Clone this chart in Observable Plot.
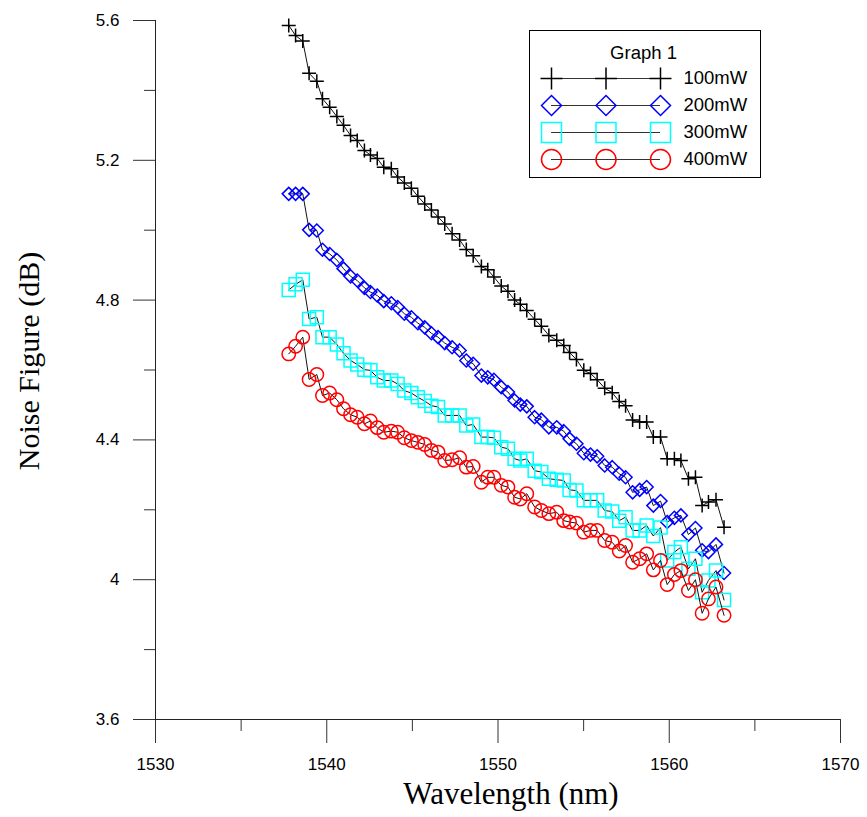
<!DOCTYPE html>
<html><head><meta charset="utf-8">
<script src="https://cdn.jsdelivr.net/npm/d3@7"></script>
<script src="https://cdn.jsdelivr.net/npm/@observablehq/plot@0.6"></script>
<style>
body{margin:0;background:#fff;}
#wrap{position:relative;width:867px;height:817px;}
#legend{position:absolute;left:528px;top:29px;}
</style></head><body>
<div id="wrap"><div id="chart"></div><div id="legend"></div></div>
<script>
const wavelength = [1537.78, 1538.18, 1538.60, 1538.97, 1539.42, 1539.75, 1540.17, 1540.59,
  1540.98, 1541.39, 1541.78, 1542.20, 1542.55, 1542.95, 1543.33, 1543.77,
  1544.14, 1544.53, 1544.94, 1545.32, 1545.72, 1546.11, 1546.50, 1546.89,
  1547.32, 1547.76, 1548.15, 1548.55, 1549.03, 1549.40, 1549.76, 1550.19,
  1550.58, 1550.97, 1551.30, 1551.68, 1552.14, 1552.53, 1552.97, 1553.43,
  1553.84, 1554.18, 1554.58, 1555.01, 1555.40, 1555.79, 1556.23, 1556.67,
  1557.08, 1557.45, 1557.86, 1558.27, 1558.68, 1559.07, 1559.49, 1559.88,
  1560.30, 1560.68, 1561.12, 1561.53, 1561.92, 1562.29, 1562.73, 1563.20];
const nf100 = [5.586, 5.557, 5.541, 5.449, 5.426, 5.376, 5.352, 5.325,
  5.300, 5.271, 5.257, 5.228, 5.215, 5.205, 5.180, 5.176,
  5.152, 5.135, 5.120, 5.097, 5.075, 5.058, 5.038, 5.018,
  4.990, 4.972, 4.945, 4.927, 4.896, 4.887, 4.866, 4.840,
  4.825, 4.800, 4.788, 4.770, 4.745, 4.725, 4.699, 4.685,
  4.670, 4.650, 4.630, 4.599, 4.590, 4.572, 4.548, 4.535,
  4.510, 4.498, 4.457, 4.451, 4.451, 4.408, 4.408, 4.346,
  4.346, 4.341, 4.289, 4.293, 4.212, 4.222, 4.229, 4.150];
const nf200 = [5.104, 5.104, 5.104, 5.001, 4.999, 4.944, 4.932, 4.915,
  4.890, 4.868, 4.856, 4.835, 4.823, 4.813, 4.797, 4.791,
  4.780, 4.761, 4.751, 4.734, 4.722, 4.705, 4.694, 4.677,
  4.665, 4.656, 4.627, 4.618, 4.584, 4.579, 4.572, 4.551,
  4.537, 4.513, 4.501, 4.496, 4.465, 4.458, 4.436, 4.436,
  4.425, 4.403, 4.389, 4.362, 4.358, 4.353, 4.327, 4.322,
  4.303, 4.293, 4.250, 4.257, 4.265, 4.212, 4.225, 4.165,
  4.177, 4.184, 4.129, 4.148, 4.084, 4.079, 4.101, 4.019];
const nf300 = [4.829, 4.845, 4.858, 4.746, 4.751, 4.694, 4.694, 4.673,
  4.648, 4.627, 4.616, 4.601, 4.599, 4.579, 4.570, 4.570,
  4.560, 4.541, 4.534, 4.522, 4.511, 4.498, 4.494, 4.470,
  4.470, 4.470, 4.441, 4.444, 4.408, 4.408, 4.406, 4.379,
  4.375, 4.346, 4.341, 4.346, 4.312, 4.308, 4.289, 4.286,
  4.284, 4.257, 4.255, 4.227, 4.227, 4.227, 4.198, 4.195,
  4.169, 4.179, 4.141, 4.141, 4.155, 4.125, 4.149, 4.055,
  4.079, 4.093, 4.031, 4.060, 3.964, 3.998, 4.026, 3.942];
const nf400 = [4.646, 4.668, 4.694, 4.573, 4.587, 4.527, 4.534, 4.515,
  4.489, 4.472, 4.465, 4.446, 4.454, 4.435, 4.422, 4.425,
  4.422, 4.406, 4.398, 4.393, 4.387, 4.370, 4.365, 4.341,
  4.343, 4.349, 4.322, 4.324, 4.279, 4.293, 4.293, 4.270,
  4.265, 4.236, 4.231, 4.246, 4.208, 4.198, 4.189, 4.193,
  4.169, 4.165, 4.162, 4.136, 4.141, 4.141, 4.112, 4.107,
  4.082, 4.098, 4.050, 4.060, 4.074, 4.028, 4.055, 3.986,
  4.015, 4.026, 3.969, 4.000, 3.904, 3.945, 3.979, 3.898];
const seriesNames = ["100mW", "200mW", "300mW", "400mW"];
const seriesColors = ["#000000", "#0000ff", "#00ffff", "#ff0000"];
const xMajor = [1530, 1540, 1550, 1560, 1570];
const xMinor = [1535, 1545, 1555, 1565];
const yMajor = [3.6, 4.0, 4.4, 4.8, 5.2, 5.6];
const yMinor = [3.8, 4.2, 4.6, 5.0, 5.4];
const legendTitle = "Graph 1";

// open symbols whose half-size equals the dot radius
const plusSym = {draw(c, s){const r=Math.sqrt(s/Math.PI); c.moveTo(-r,0); c.lineTo(r,0); c.moveTo(0,-r); c.lineTo(0,r);}};
const diamondSym = {draw(c, s){const r=Math.sqrt(s/Math.PI); c.moveTo(0,-r); c.lineTo(r,0); c.lineTo(0,r); c.lineTo(-r,0); c.closePath();}};
const squareSym = {draw(c, s){const r=Math.sqrt(s/Math.PI); c.moveTo(-r,-r); c.lineTo(r,-r); c.lineTo(r,r); c.lineTo(-r,r); c.closePath();}};
const circleSym = {draw(c, s){const r=Math.sqrt(s/Math.PI); c.moveTo(r,0); c.arc(0,0,r,0,2*Math.PI); c.closePath();}};
const symbols = [plusSym, diamondSym, squareSym, circleSym];
const plotR = [7, 6.5, 6.5, 6.7];
const legendR = [11, 10, 10, 10];

const allNF = [nf100, nf200, nf300, nf400];
const series = allNF.map((arr, k) => wavelength.map((w, i) => ({w, nf: arr[i], name: seriesNames[k]})));

const sans = "'Liberation Sans', Arial, Helvetica, sans-serif";
const serif = "'Liberation Serif', 'Times New Roman', serif";

const dataMarks = [];
series.forEach((rows, k) => {
  dataMarks.push(Plot.line(rows, {x: "w", y: "nf", stroke: "#111", strokeWidth: 1}));
  dataMarks.push(Plot.dot(rows, {x: "w", y: "nf", symbol: symbols[k], r: plotR[k], stroke: seriesColors[k], fill: "none", strokeWidth: 1.5}));
});

const chart = Plot.plot({
  width: 867, height: 817,
  marginLeft: 155, marginRight: 27, marginTop: 20, marginBottom: 98,
  style: {fontFamily: sans, fontSize: "17px", background: "white", color: "black", overflow: "visible"},
  x: {domain: [1530, 1570]},
  y: {domain: [3.6, 5.6]},
  marks: [
    Plot.axisX({ticks: xMajor, tickSize: 24, tickPadding: 14, tickFormat: d => String(d), label: null, stroke: "#333"}),
    Plot.axisX({ticks: xMinor, tickSize: 12, tickFormat: () => "", label: null, stroke: "#333"}),
    Plot.axisY({ticks: yMajor, tickSize: 22, tickPadding: 14, tickFormat: d => String(+d.toFixed(1)), label: null, stroke: "#333"}),
    Plot.axisY({ticks: yMinor, tickSize: 11, tickFormat: () => "", label: null, stroke: "#333"}),
    Plot.ruleX([1530], {stroke: "#222"}),
    Plot.ruleY([3.6], {stroke: "#222"}),
    ...dataMarks,
    Plot.text(["Wavelength (nm)"], {text: d => d, frameAnchor: "bottom", textAnchor: "middle", lineAnchor: "middle", dx: 13, dy: 75, fontFamily: serif, fontSize: 31, fill: "black"}),
    Plot.text(["Noise Figure (dB)"], {text: d => d, frameAnchor: "left", textAnchor: "middle", lineAnchor: "middle", rotate: -90, dx: -126, dy: -9, fontFamily: serif, fontSize: 30, fill: "black"})
  ]
});
document.getElementById("chart").append(chart);

const legendMarks = [
  Plot.frame({stroke: "black", strokeWidth: 1}),
  Plot.text([legendTitle], {text: d => d, frameAnchor: "top", textAnchor: "middle", lineAnchor: "middle", dx: -1.5, dy: 23, fill: "black"}),
  Plot.ruleY(seriesNames, {y: d => d, x1: 0, x2: 2, stroke: "#333", strokeWidth: 1})
];
seriesNames.forEach((name, k) => {
  legendMarks.push(Plot.dot([0, 1, 2], {x: d => d, y: () => name, symbol: symbols[k], r: legendR[k], stroke: seriesColors[k], fill: "none", strokeWidth: 1.5}));
});
legendMarks.push(Plot.text(seriesNames, {x: () => 2, y: d => d, text: d => d, dx: 23, textAnchor: "start", fill: "black"}));

const legend = Plot.plot({
  width: 233, height: 149, margin: 1,
  style: {fontFamily: sans, fontSize: "18.5px", background: "white", color: "black"},
  x: {domain: [0, 2], range: [23, 132], axis: null},
  y: {type: "point", domain: seriesNames, range: [48, 130], padding: 0, axis: null},
  marks: legendMarks
});
document.getElementById("legend").append(legend);
</script></body></html>
